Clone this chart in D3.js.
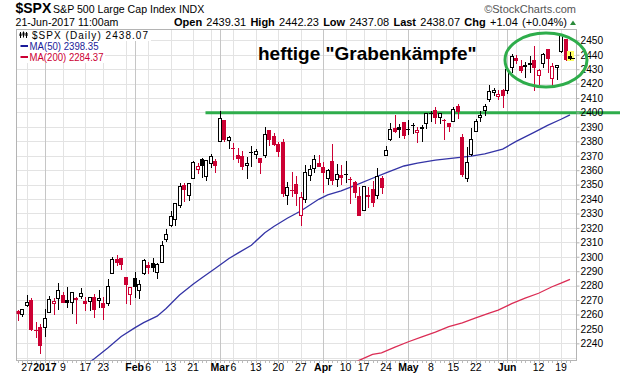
<!DOCTYPE html>
<html><head><meta charset="utf-8">
<script src="https://cdn.jsdelivr.net/npm/d3@7/dist/d3.min.js"></script>
<style>
body{margin:0;background:#fff}
svg{display:block;background:#fff}
text{font-family:"Liberation Sans",Arial,sans-serif}
</style>
</head><body>
<svg id="c" width="620" height="376"></svg>
<script>
// ---------------- data ----------------
const dates = [
"2016-12-22","2016-12-23","2016-12-27","2016-12-28","2016-12-29","2016-12-30",
"2017-01-03","2017-01-04","2017-01-05","2017-01-06","2017-01-09","2017-01-10","2017-01-11","2017-01-12","2017-01-13","2017-01-17","2017-01-18","2017-01-19","2017-01-20","2017-01-23","2017-01-24","2017-01-25","2017-01-26","2017-01-27","2017-01-30","2017-01-31",
"2017-02-01","2017-02-02","2017-02-03","2017-02-06","2017-02-07","2017-02-08","2017-02-09","2017-02-10","2017-02-13","2017-02-14","2017-02-15","2017-02-16","2017-02-17","2017-02-21","2017-02-22","2017-02-23","2017-02-24","2017-02-27","2017-02-28",
"2017-03-01","2017-03-02","2017-03-03","2017-03-06","2017-03-07","2017-03-08","2017-03-09","2017-03-10","2017-03-13","2017-03-14","2017-03-15","2017-03-16","2017-03-17","2017-03-20","2017-03-21","2017-03-22","2017-03-23","2017-03-24","2017-03-27","2017-03-28","2017-03-29","2017-03-30","2017-03-31",
"2017-04-03","2017-04-04","2017-04-05","2017-04-06","2017-04-07","2017-04-10","2017-04-11","2017-04-12","2017-04-13","2017-04-17","2017-04-18","2017-04-19","2017-04-20","2017-04-21","2017-04-24","2017-04-25","2017-04-26","2017-04-27","2017-04-28",
"2017-05-01","2017-05-02","2017-05-03","2017-05-04","2017-05-05","2017-05-08","2017-05-09","2017-05-10","2017-05-11","2017-05-12","2017-05-15","2017-05-16","2017-05-17","2017-05-18","2017-05-19","2017-05-22","2017-05-23","2017-05-24","2017-05-25","2017-05-26","2017-05-30","2017-05-31",
"2017-06-01","2017-06-02","2017-06-05","2017-06-06","2017-06-07","2017-06-08","2017-06-09","2017-06-12","2017-06-13","2017-06-14","2017-06-15","2017-06-16","2017-06-19","2017-06-20","2017-06-21"
];
const open = [
2262.60,2260.25,2266.23,2270.23,2249.50,2251.61,
2251.57,2261.60,2268.18,2271.14,2273.59,2269.72,2268.60,2271.14,2272.74,2269.14,2269.14,2271.90,2269.96,2267.78,2267.88,2288.88,2298.63,2299.02,2286.01,2274.02,
2285.59,2276.69,2288.54,2294.28,2295.87,2289.55,2296.70,2312.27,2321.72,2326.12,2335.58,2349.64,2343.01,2354.91,2361.11,2367.50,2355.73,2365.23,2366.08,
2380.13,2394.75,2380.92,2375.23,2370.74,2369.81,2363.49,2372.52,2371.56,2368.55,2370.34,2387.71,2383.71,2378.24,2379.32,2343.00,2345.97,2350.42,2329.11,2339.79,2356.54,2361.31,2364.82,
2362.34,2354.76,2366.59,2353.79,2356.59,2357.16,2353.92,2352.15,2341.98,2332.62,2342.53,2346.79,2342.69,2354.74,2370.33,2381.51,2388.98,2389.70,2393.68,
2388.50,2391.05,2386.50,2389.79,2392.37,2399.94,2401.58,2396.79,2394.84,2392.44,2393.98,2404.55,2382.95,2354.69,2371.37,2387.21,2397.04,2401.41,2409.54,2414.50,2411.67,2415.63,
2415.65,2431.28,2437.83,2431.92,2432.03,2434.27,2436.39,2425.88,2434.15,2443.75,2424.14,2431.24,2442.55,2450.66,2439.31
];
const high = [
2263.18,2263.79,2273.82,2271.31,2254.51,2253.58,
2263.88,2272.82,2271.50,2282.10,2275.49,2279.27,2275.32,2271.78,2278.68,2272.08,2272.01,2274.33,2276.96,2271.78,2284.63,2299.55,2300.99,2299.02,2286.01,2279.09,
2289.14,2283.97,2298.31,2296.18,2299.40,2295.91,2311.08,2319.23,2331.58,2337.58,2351.30,2351.31,2351.16,2366.71,2365.13,2368.26,2367.34,2371.54,2367.79,
2400.98,2394.75,2383.89,2378.80,2375.12,2373.09,2369.08,2376.86,2374.42,2368.55,2390.01,2388.10,2385.71,2379.55,2381.93,2351.81,2358.92,2356.22,2344.90,2363.78,2363.36,2370.42,2370.35,
2365.87,2360.53,2378.36,2364.16,2363.76,2366.37,2355.22,2352.72,2348.26,2349.14,2348.35,2352.63,2361.37,2356.18,2376.98,2392.48,2398.16,2392.10,2393.68,
2394.49,2392.93,2389.82,2391.43,2399.29,2401.36,2403.87,2399.74,2395.72,2392.44,2404.05,2405.77,2384.87,2375.74,2389.06,2395.46,2400.85,2405.58,2418.71,2416.68,2415.26,2415.99,
2430.06,2440.23,2439.55,2436.21,2435.28,2439.27,2446.20,2430.38,2441.49,2443.75,2433.95,2433.15,2453.82,2450.66,2442.23
];
const low = [
2256.08,2258.84,2266.15,2249.11,2244.56,2233.62,
2245.13,2261.60,2260.45,2264.06,2268.90,2265.27,2260.83,2254.25,2271.51,2262.81,2263.35,2258.41,2265.01,2257.02,2266.68,2288.88,2294.08,2291.62,2268.04,2267.21,
2272.44,2271.65,2287.88,2288.57,2290.16,2285.38,2296.61,2311.10,2321.42,2322.17,2334.81,2338.87,2339.58,2354.91,2358.34,2355.09,2352.87,2361.87,2358.96,
2380.13,2380.17,2375.39,2367.98,2365.51,2361.01,2354.54,2363.04,2368.52,2358.18,2368.94,2377.18,2377.64,2369.66,2341.90,2336.45,2342.13,2335.74,2322.25,2337.63,2352.94,2358.58,2362.60,
2344.73,2350.72,2350.74,2348.90,2350.74,2351.50,2337.25,2341.18,2328.95,2332.51,2334.54,2335.05,2340.91,2344.51,2370.33,2381.15,2386.78,2382.68,2382.36,
2384.83,2385.82,2379.75,2380.35,2389.38,2393.92,2392.44,2392.79,2381.74,2387.19,2393.94,2396.05,2356.21,2352.72,2370.43,2386.92,2393.88,2397.99,2408.01,2412.20,2409.43,2403.59,
2413.54,2427.71,2434.32,2428.12,2424.75,2427.94,2415.70,2419.97,2431.28,2428.34,2418.53,2422.88,2441.79,2436.60,2437.08
];
const close = [
2260.96,2263.79,2268.88,2249.92,2249.26,2238.83,
2257.83,2270.75,2269.00,2276.98,2268.90,2268.90,2275.32,2270.44,2274.64,2267.89,2271.89,2263.69,2271.31,2265.20,2280.07,2298.37,2296.68,2294.69,2280.90,2278.87,
2279.55,2280.85,2297.42,2292.56,2293.08,2294.67,2307.87,2316.10,2328.25,2337.58,2349.25,2347.22,2351.16,2365.38,2362.82,2363.81,2367.34,2369.75,2363.64,
2395.96,2381.92,2383.12,2375.31,2368.39,2362.98,2364.87,2372.60,2373.47,2365.45,2385.26,2381.38,2378.25,2373.47,2344.02,2348.45,2345.96,2343.98,2341.59,2358.57,2361.13,2368.06,2362.72,
2358.84,2360.16,2352.95,2357.49,2355.54,2357.16,2353.78,2344.93,2328.95,2349.01,2342.19,2338.17,2355.84,2348.69,2374.15,2388.61,2387.45,2388.77,2384.20,
2388.33,2391.17,2388.13,2389.52,2399.29,2399.38,2396.92,2399.63,2394.44,2390.90,2402.32,2400.67,2357.03,2365.72,2381.73,2394.02,2398.42,2404.39,2415.07,2415.82,2412.91,2411.80,
2430.06,2439.07,2436.10,2429.33,2433.14,2433.79,2431.77,2429.39,2440.35,2437.92,2432.46,2433.15,2453.46,2437.03,2438.07
];
const prevCloseBefore = 2265.18;

const ma50Dates = ["2017-01-17","2017-01-19","2017-01-24","2017-01-27","2017-02-01","2017-02-03","2017-02-08","2017-02-10","2017-02-15","2017-02-21","2017-02-23","2017-02-28","2017-03-03","2017-03-07","2017-03-10","2017-03-15","2017-03-17","2017-03-22","2017-03-27","2017-03-31","2017-04-04","2017-04-07","2017-04-12","2017-04-19","2017-04-24","2017-04-28","2017-05-03","2017-05-09","2017-05-15","2017-05-19","2017-05-24","2017-05-31","2017-06-05","2017-06-09","2017-06-14","2017-06-19","2017-06-21"];
const ma50Values = [2225.0,2229.3,2236.7,2244.7,2250.7,2254.3,2258.8,2264.2,2273.5,2280.9,2285.5,2292.0,2298.8,2302.5,2308.0,2316.7,2321.0,2326.7,2331.7,2339.8,2342.9,2345.6,2349.3,2354.4,2358.2,2362.9,2364.9,2366.9,2368.4,2369.7,2371.3,2374.6,2380.0,2386.2,2391.0,2395.3,2398.35];

const ma200Dates = ["2017-04-12","2017-04-13","2017-04-19","2017-04-21","2017-04-26","2017-05-01","2017-05-04","2017-05-09","2017-05-12","2017-05-17","2017-05-22","2017-05-25","2017-05-30","2017-06-02","2017-06-07","2017-06-12","2017-06-15","2017-06-19","2017-06-21"];
const ma200Values = [2226.6,2228.2,2232.3,2233.4,2237.4,2241.1,2244.4,2247.7,2251.5,2254.2,2257.6,2260.9,2263.0,2267.5,2271.3,2274.7,2279.2,2281.7,2284.37];

const yTickValues = [2240,2250,2260,2270,2280,2290,2300,2310,2320,2330,2340,2350,2360,2370,2380,2390,2400,2410,2420,2430,2440,2450];
const yGridValues = [2230,2240,2250,2260,2270,2280,2290,2300,2310,2320,2330,2340,2350,2360,2370,2380,2390,2400,2410,2420,2430,2440,2450];

const xLabelDates = ["2016-12-27","2017-01-03","2017-01-09","2017-01-17","2017-01-23","2017-02-01","2017-02-06","2017-02-13","2017-02-21","2017-03-01","2017-03-06","2017-03-13","2017-03-20","2017-03-27","2017-04-03","2017-04-10","2017-04-17","2017-04-24","2017-05-01","2017-05-08","2017-05-15","2017-05-22","2017-06-01","2017-06-12","2017-06-19"];
const xLabelTexts = ["27","2017","9","17","23","Feb","6","13","21","Mar","6","13","20","27","Apr","10","17","24","May","8","15","22","Jun","12","19"];
const xLabelBold  = [0,1,0,0,0,1,0,0,0,1,0,0,0,0,1,0,0,0,1,0,0,0,1,0,0];
const xExtraGridDates = ["2017-01-30","2017-02-27","2017-05-30","2017-06-05"];
const monthStartDates = ["2017-01-03","2017-02-01","2017-03-01","2017-04-03","2017-05-01","2017-06-01"];

const supportLevel = 2399.8, supportFrom = "2017-02-24";
const annotationText = "heftige \"Grabenkämpfe\"";

// ---------------- drawing ----------------
const RED = "#cc0033", BLUE = "#3434a6", MA200C = "#db2d55", GREEN = "#2ead4b";
const plot = {l:16.5, r:576.5, t:29.5, b:360.5};
const svg = d3.select("#c");

const x = d3.scalePoint().domain(dates).range([18, 570]);
const y = d3.scaleLinear().domain([2228.1, 2457.5]).range([360.5, 29.5]);
const px = d => Math.round(x(d)) + 0.5;
const py = v => Math.round(y(v)) + 0.5;

svg.append("defs").append("clipPath").attr("id","pc")
  .append("rect").attr("x",plot.l).attr("y",plot.t).attr("width",plot.r-plot.l).attr("height",plot.b-plot.t);

// grid
const grid = svg.append("g");
grid.selectAll("line.h").data(yGridValues).join("line")
  .attr("x1",plot.l).attr("x2",plot.r).attr("y1",py).attr("y2",py)
  .attr("stroke","#e3e3e3");
const gridDates = xLabelDates.concat(xExtraGridDates);
grid.selectAll("line.v").data(gridDates).join("line")
  .attr("x1",px).attr("x2",px).attr("y1",plot.t).attr("y2",plot.b)
  .attr("stroke", d => monthStartDates.includes(d) ? "#c6c6c6" : "#e3e3e3");

// frame
svg.append("rect").attr("x",plot.l).attr("y",plot.t).attr("width",plot.r-plot.l).attr("height",plot.b-plot.t)
  .attr("fill","none").attr("stroke","#b4b4b4");

// day ticks at bottom
svg.append("g").selectAll("line").data(dates).join("line")
  .attr("x1",px).attr("x2",px).attr("y1",plot.b).attr("y2",plot.b+2.5)
  .attr("stroke","#bbb");

// moving averages
const lineGen = d3.line().x(d=>x(d[0])).y(d=>y(d[1]));
const maG = svg.append("g").attr("clip-path","url(#pc)");
maG.append("path").datum(ma200Dates.map((d,i)=>[d,ma200Values[i]]))
  .attr("d",lineGen).attr("fill","none").attr("stroke",MA200C).attr("stroke-width",1.3);
maG.append("path").datum(ma50Dates.map((d,i)=>[d,ma50Values[i]]))
  .attr("d",lineGen).attr("fill","none").attr("stroke",BLUE).attr("stroke-width",1.3);

// support line
svg.append("line")
  .attr("x1", x(supportFrom)-1).attr("x2", 620)
  .attr("y1", y(supportLevel)).attr("y2", y(supportLevel))
  .attr("stroke", GREEN).attr("stroke-width", 3);

// candles
const bars = dates.map((d,i)=>({d, o:open[i], h:high[i], l:low[i], c:close[i],
  pc: i===0 ? prevCloseBefore : close[i-1], last: i===dates.length-1}));
const cg = svg.append("g").attr("clip-path","url(#pc)");
bars.forEach(b=>{
  const r = Math.round(x(b.d));
  const col = b.c >= b.pc ? "#000" : RED;
  const hollow = b.c > b.o;
  const top = Math.round(y(Math.max(b.o,b.c)));
  const bot = Math.round(y(Math.min(b.o,b.c)));
  if (b.last) {
    cg.append("rect").attr("x",r-3).attr("y",Math.round(y(b.h))-1)
      .attr("width",7).attr("height",Math.round(y(b.l))-Math.round(y(b.h))+3)
      .attr("fill","#ffff66");
  }
  cg.append("line").attr("x1",r+0.5).attr("x2",r+0.5)
    .attr("y1",Math.round(y(b.h))).attr("y2",Math.round(y(b.l))+1)
    .attr("stroke",col);
  if (bot - top < 1) {
    cg.append("line").attr("x1",r-2).attr("x2",r+2).attr("y1",top+0.5).attr("y2",top+0.5).attr("stroke",col);
  } else if (hollow) {
    cg.append("rect").attr("x",r-1.5).attr("y",top+0.5).attr("width",3).attr("height",bot-top)
      .attr("fill","#fff").attr("stroke",col);
  } else {
    cg.append("rect").attr("x",r-2).attr("y",top).attr("width",4).attr("height",bot-top+1)
      .attr("fill",col);
  }
  if (b.last) {
    cg.append("line").attr("x1",r+2).attr("x2",r+5).attr("y1",Math.round(y(b.c))+0.5).attr("y2",Math.round(y(b.c))+0.5)
      .attr("stroke","#000");
  }
});

// right axis
const ax = svg.append("g").attr("transform",`translate(${plot.r},0)`)
  .call(d3.axisRight(y).tickValues(yTickValues).tickSize(3).tickPadding(1).tickFormat(d3.format("d")));
ax.select(".domain").remove();
ax.selectAll(".tick line").attr("stroke","#b4b4b4");
ax.selectAll(".tick text").attr("font-size","10.2px").attr("fill","#000")
  .attr("font-family","'Liberation Sans',Arial,sans-serif");

// x labels
svg.append("g").selectAll("text").data(xLabelDates).join("text")
  .attr("x", d=>x(d)).attr("y", 371).attr("text-anchor","middle")
  .attr("font-size","10.5px")
  .attr("font-weight",(d,i)=>xLabelBold[i] ? "bold" : "normal")
  .text((d,i)=>xLabelTexts[i]);

// legend
const lg = svg.append("g");
lg.append("rect").attr("x",17).attr("y",30).attr("width",134).attr("height",11).attr("fill","#fff");
lg.append("rect").attr("x",17).attr("y",41).attr("width",88).attr("height",22).attr("fill","#fff");
// candle icon
[[20.5,32,38,33.5,36],[23.5,31.5,37.5,32.5,35.5],[26.5,32,38,33,36]].forEach(c=>{
  lg.append("line").attr("x1",c[0]).attr("x2",c[0]).attr("y1",c[1]).attr("y2",c[2]).attr("stroke","#000");
  lg.append("rect").attr("x",c[0]-1).attr("y",c[3]).attr("width",2).attr("height",c[4]-c[3]).attr("fill","#000");
});
lg.append("text").attr("x",32).attr("y",38.5).attr("font-size","10px")
  .attr("font-family","'DejaVu Sans Mono',monospace")
  .attr("textLength",116).attr("lengthAdjust","spacing").text("$SPX (Daily) 2438.07");
lg.append("rect").attr("x",20.5).attr("y",45).attr("width",7.5).attr("height",2).attr("fill","#1b1b99");
lg.append("text").attr("x",29.5).attr("y",49.5).attr("font-size","10px").attr("fill","#1b1b99")
  .attr("textLength",69).attr("lengthAdjust","spacingAndGlyphs").text("MA(50) 2398.35");
lg.append("rect").attr("x",20.5).attr("y",56).attr("width",7.5).attr("height",2).attr("fill",RED);
lg.append("text").attr("x",29.5).attr("y",60.5).attr("font-size","10px").attr("fill",RED)
  .attr("textLength",74).attr("lengthAdjust","spacingAndGlyphs").text("MA(200) 2284.37");

// header
svg.append("text").attr("x",15.5).attr("y",13).attr("font-size","14px").attr("font-weight","bold").text("$SPX");
svg.append("text").attr("x",53).attr("y",13).attr("font-size","10.6px").text("S&P 500 Large Cap Index");
svg.append("text").attr("x",179).attr("y",13).attr("font-size","10.6px").text("INDX");
svg.append("text").attr("x",576).attr("y",12.5).attr("font-size","11px").attr("text-anchor","end")
  .attr("fill","#555").text("©StockCharts.com");
svg.append("text").attr("x",15.5).attr("y",25.5).attr("font-size","10.6px").text("21-Jun-2017 11:00am");
const info = svg.append("text").attr("x",567).attr("y",25.5).attr("font-size","11px")
  .attr("text-anchor","end").attr("word-spacing","1.2px");
[["Open",1],[" 2439.31 ",0],["High",1],[" 2442.23 ",0],["Low",1],[" 2437.08 ",0],["Last",1],[" 2438.07 ",0],["Chg",1],[" +1.04 (+0.04%)",0]]
  .forEach(p=>info.append("tspan").attr("font-weight",p[1]?"bold":"normal").text(p[0]));
svg.append("path").attr("d","M570,25 L573,20.5 L576,25 Z").attr("fill","#2a8a3a");

// annotation
svg.append("text").attr("x",258).attr("y",59.5).attr("font-size","19px").attr("font-weight","bold")
  .attr("fill","#000").text(annotationText);
svg.append("ellipse").attr("cx",546).attr("cy",60).attr("rx",41).attr("ry",27)
  .attr("fill","none").attr("stroke",GREEN).attr("stroke-width",3);
</script>
</body></html>
